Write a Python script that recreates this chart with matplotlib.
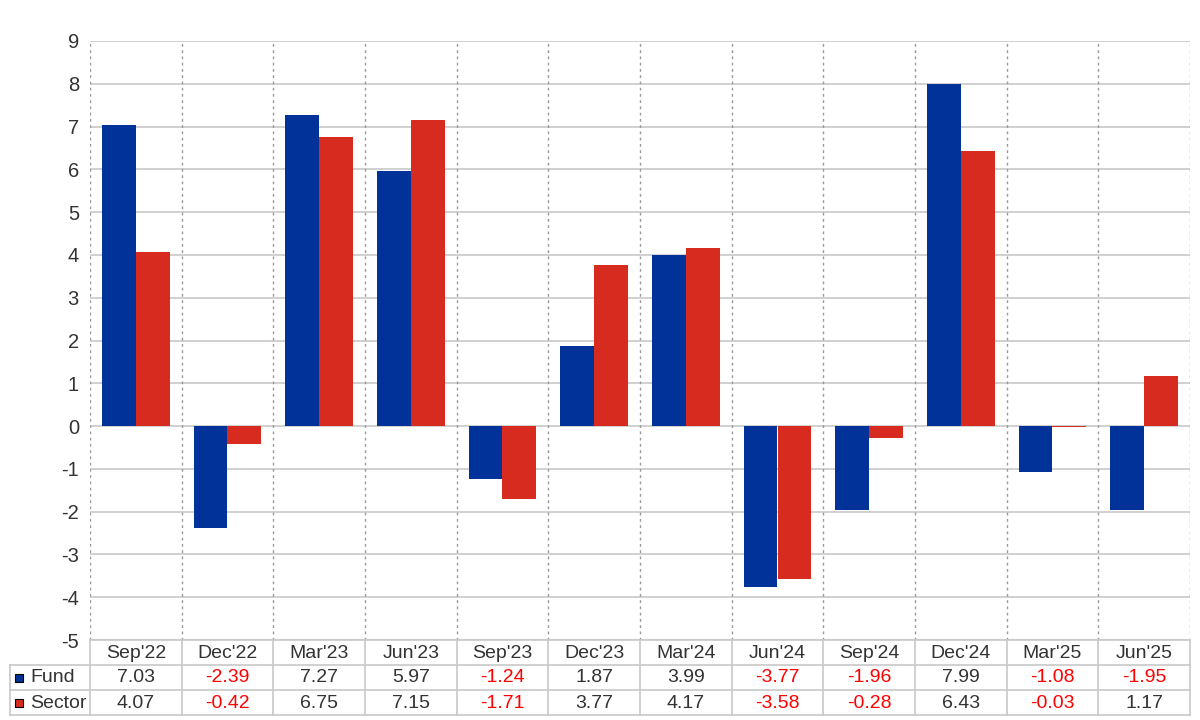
import matplotlib
matplotlib.use("Agg")
import matplotlib.pyplot as plt
from matplotlib.patches import Rectangle
import numpy as np

categories = ["Sep'22", "Dec'22", "Mar'23", "Jun'23", "Sep'23", "Dec'23",
              "Mar'24", "Jun'24", "Sep'24", "Dec'24", "Mar'25", "Jun'25"]
fund = [7.03, -2.39, 7.27, 5.97, -1.24, 1.87, 3.99, -3.77, -1.96, 7.99, -1.08, -1.95]
sector = [4.07, -0.42, 6.75, 7.15, -1.71, 3.77, 4.17, -3.58, -0.28, 6.43, -0.03, 1.17]
series_names = ["Fund", "Sector"]
yticks = list(range(-5, 10))

BLUE = "#003299"
RED = "#d82b1f"
GRID = "#c8c8c8"
TXT = "#333333"

plt.rcParams['font.family'] = ['Liberation Sans', 'DejaVu Sans']

W, H = 1200, 720
fig = plt.figure(figsize=(12, 7.2), dpi=100)
L, R, T, B = 90, 1190, 41, 640
ax = fig.add_axes([L / W, 1 - B / H, (R - L) / W, (B - T) / H])

n = len(categories)
x = np.arange(n)
bw = 0.37
ax.bar(x - bw / 2, fund, width=bw, color=BLUE, zorder=3)
ax.bar(x + bw / 2, sector, width=bw, color=RED, zorder=3)

ax.set_xlim(-0.5, n - 0.5)
ax.set_ylim(-5, 9)
ax.set_yticks(yticks)
ax.set_yticklabels([str(v) for v in yticks], fontsize=14.5, color=TXT)
ax.tick_params(axis='y', length=0, pad=8)
ax.set_xticks([])
for s in ax.spines.values():
    s.set_visible(False)
for v in yticks:
    ax.axhline(v, color=GRID, lw=1.2, zorder=1)
for b in np.arange(-0.5, n, 1.0):
    ax.axvline(b, color="#999999", lw=1, ls=(0, (2, 2.5)), zorder=2)

# table below
def px_y(yp):
    return 1 - yp / H

def px_x(xp):
    return xp / W

cw = (R - L) / n
rows = [(640, 665), (665, 690), (690, 715)]
tl = 10
kw = dict(color=GRID, lw=1.2, transform=fig.transFigure)
fig.add_artist(plt.Line2D([px_x(L), px_x(R)], [px_y(640), px_y(640)], **kw))
for yy in (665, 690, 715):
    fig.add_artist(plt.Line2D([px_x(tl), px_x(R)], [px_y(yy), px_y(yy)], **kw))
for i in range(n + 1):
    xx = L + i * cw
    fig.add_artist(plt.Line2D([px_x(xx), px_x(xx)], [px_y(640), px_y(715)], **kw))
fig.add_artist(plt.Line2D([px_x(tl), px_x(tl)], [px_y(665), px_y(715)], **kw))

FS = 14
for i, c in enumerate(categories):
    cx = L + (i + 0.5) * cw
    fig.text(px_x(cx), px_y(653), c, ha='center', va='center', fontsize=FS, color=TXT)
    for (vals, (y0, y1)) in ((fund, rows[1]), (sector, rows[2])):
        v = vals[i]
        fig.text(px_x(cx), px_y((y0 + y1) / 2 + 0.5), f"{v:.2f}", ha='center', va='center',
                 fontsize=FS, color=("#ff0000" if v < 0 else TXT))

for name, col, (y0, y1) in ((series_names[0], BLUE, rows[1]), (series_names[1], RED, rows[2])):
    yc = (y0 + y1) / 2
    fig.add_artist(Rectangle((px_x(15), px_y(yc + 4)), 8 / W, 8 / H, facecolor=col,
                             edgecolor='black', lw=0.8, transform=fig.transFigure))
    fig.text(px_x(30), px_y(yc + 0.5), name, ha='left', va='center', fontsize=FS, color=TXT)

fig.savefig("out.png", dpi=100)
